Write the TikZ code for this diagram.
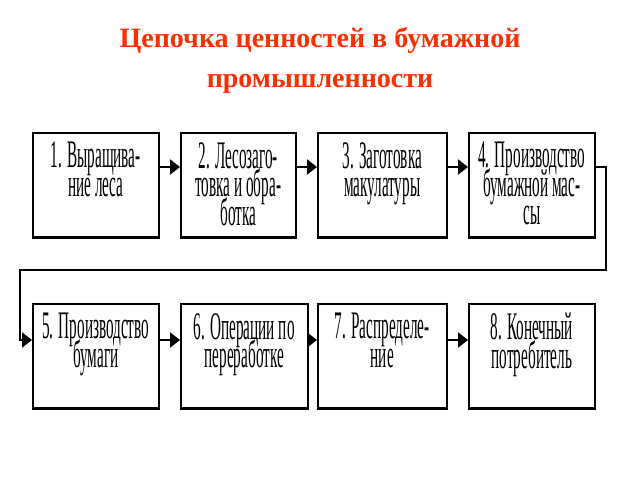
\documentclass[tikz,border=0pt]{standalone}
\usepackage{fontspec}
\setmainfont{Liberation Serif}
\newfontfamily\boxfont[FakeStretch=0.39]{Liberation Serif}
\newcommand\myboxtextfont{\boxfont\fontsize{39pt}{28.5pt}\selectfont\lineskiplimit=-100pt\relax\lineskip=0pt\relax}
\usetikzlibrary{arrows.meta}
\definecolor{titlered}{RGB}{255,45,0}
\tikzset{
  stepbox/.style={draw=black, line width=1.6pt, fill=white, minimum width=126pt, minimum height=104pt, inner sep=0pt, anchor=north west,
    append after command={\pgfextra{\draw[line width=1.2pt] ([yshift=-1.2pt]\tikzlastnode.south west) -- ([yshift=-1.2pt]\tikzlastnode.south east);}}},
  boxtext/.style={align=center, inner sep=0pt, anchor=north, font=\myboxtextfont},
  flow/.style={line width=2pt, -{Triangle[length=10pt,width=15pt]}},
  titletext/.style={font=\bfseries\fontsize{28pt}{30pt}\selectfont, text=titlered, anchor=base, inner sep=0pt}
}
\begin{document}
\begin{tikzpicture}[x=1pt,y=-1pt]
\useasboundingbox (0,0) rectangle (640,480);
\fill[white] (0,0) rectangle (640,480);
\node[titletext] (title1) at (320,47) {Цепочка ценностей в бумажной};
\node[titletext] (title2) at (320,87) {промышленности};
% top row
\node[stepbox, minimum width=126pt] (b1) at (32,132) {};
\node[stepbox, minimum width=115pt] (b2) at (180,132) {};
\node[stepbox, minimum width=129pt] (b3) at (317,132) {};
\node[stepbox, minimum width=126pt] (b4) at (468,132) {};
% bottom row
\node[stepbox, minimum width=126pt] (b5) at (32,303) {};
\node[stepbox, minimum width=127pt] (b6) at (180,303) {};
\node[stepbox, minimum width=129pt] (b7) at (317,303) {};
\node[stepbox, minimum width=126pt] (b8) at (468,303) {};
% texts
\node[boxtext] (t1) at ([yshift=-10pt]b1.north) {1. Выращива-\\ние леса};
\node[boxtext] (t2) at ([yshift=-10pt]b2.north) {2. Лесозаго-\\товка и обра-\\ботка};
\node[boxtext] (t3) at ([yshift=-10pt]b3.north) {3. Заготовка\\макулатуры};
\node[boxtext] (t4) at ([yshift=-10pt]b4.north) {4. Производство\\бумажной мас-\\сы};
\node[boxtext] (t5) at ([yshift=-10pt]b5.north) {5. Производство\\бумаги};
\node[boxtext] (t6) at ([yshift=-10pt]b6.north) {6. Операции по\\переработке};
\node[boxtext] (t7) at ([yshift=-10pt]b7.north) {7. Распределе-\\ние};
\node[boxtext] (t8) at ([yshift=-10pt]b8.north) {8. Конечный\\потребитель};
% connectors
\coordinate (r1) at (0,167);
\coordinate (r2) at (0,340);
\draw[flow] (b1.east |- r1) -- (b2.west |- r1);
\draw[flow] (b2.east |- r1) -- (b3.west |- r1);
\draw[flow] (b3.east |- r1) -- (b4.west |- r1);
\coordinate (c1) at (606,167);
\coordinate (c2) at (606,270);
\coordinate (c3) at (20,270);
\coordinate (c4) at (20,340);
\draw[flow] (b4.east |- r1) -- (c1) -- (c2) -- (c3) -- (c4) -- (b5.west |- r2);
\draw[flow] (b5.east |- r2) -- (b6.west |- r2);
\draw[flow] (b6.east |- r2) -- (b7.west |- r2);
\draw[flow] (b7.east |- r2) -- (b8.west |- r2);
\end{tikzpicture}
\end{document}
